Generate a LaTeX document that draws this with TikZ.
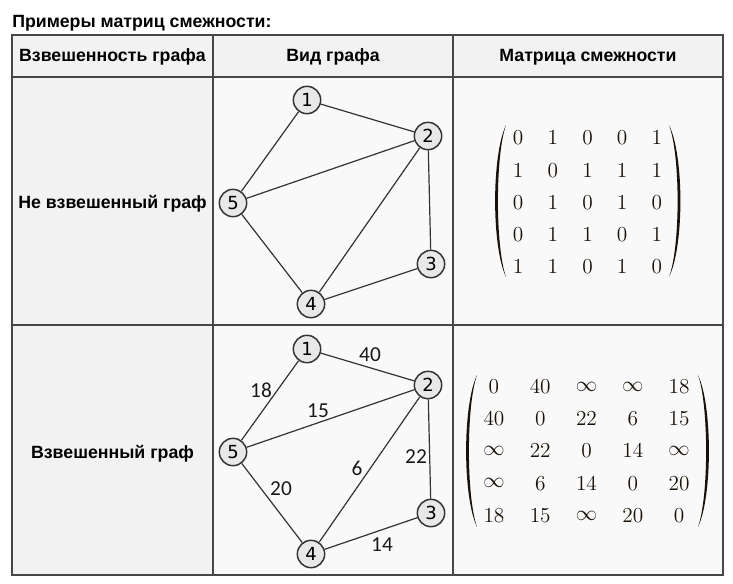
\IfFileExists{fix-cm.sty}{\RequirePackage{fix-cm}}{}
\documentclass[tikz,border=0pt]{standalone}
\usepackage{fontspec}
\newfontfamily\arialf{Liberation Sans}
\newfontfamily\dejavuf{DejaVu Sans}
\newfontfamily\carlitof{Carlito}
\usetikzlibrary{matrix}
\definecolor{headbg}{HTML}{F2F2F2}
\definecolor{cellbg}{HTML}{F9F9F9}
\definecolor{gridc}{HTML}{474747}
\definecolor{vfill}{HTML}{E8E8E8}
\definecolor{edgec}{HTML}{333333}
\definecolor{mtxc}{HTML}{1A1208}
\tikzset{
  gridline/.style={draw=gridc, line width=1.5pt*0.75},
  vtx/.style={circle, draw=edgec, fill=vfill, line width=1.1pt, minimum size=20.5pt, inner sep=0pt, font=\dejavuf\fontsize{13.5}{13.5}\selectfont},
  gedge/.style={draw=edgec, line width=0.9pt},
  wlab/.style={font=\carlitof\fontsize{16}{16}\selectfont, text=black!90, inner sep=0pt},
  headtxt/.style={font=\arialf\bfseries\fontsize{13.3}{15}\selectfont, anchor=base, inner sep=0pt},
  adjm/.style={matrix of math nodes, inner sep=0pt,
    column sep=0pt, row sep=0pt,
    nodes={minimum height=24.2pt, inner sep=0pt, anchor=center, text=mtxc, font=\fontsize{16}{19}\selectfont}},
  delim/.style={fill=mtxc},
}
\newcommand\drawdelim[5]{%
  \pgfmathsetmacro\dca{(#4-#5-0.25*#1)/0.75}%
  \pgfmathsetmacro\dcb{(#4+#5-0.25*#1)/0.75}%
  \pgfmathsetmacro\dya{#2+0.2*(#3-#2)}%
  \pgfmathsetmacro\dyb{#3-0.2*(#3-#2)}%
  \fill[delim] (#1,#2) .. controls (\dca,\dya) and (\dca,\dyb) .. (#1,#3)
     .. controls (\dcb,\dyb) and (\dcb,\dya) .. (#1,#2) -- cycle;}
\begin{document}
\begin{tikzpicture}[x=0.75pt,y=-0.75pt]
\useasboundingbox (0,0) rectangle (733,583);
\fill[white] (0,0) rectangle (733,583);
% backgrounds
\fill[headbg] (12,35) rectangle (723,77);
\fill[headbg] (12,77) rectangle (213,575);
\fill[cellbg] (213,77) rectangle (723,575);
% grid
\draw[gridline] (12,35) rectangle (723,575);
\draw[gridline] (12,77) -- (723,77);
\draw[gridline] (12,325) -- (723,325);
\draw[gridline] (213,35) -- (213,575);
\draw[gridline] (453,35) -- (453,575);
% title and headers
\node[headtxt, anchor=base west] (title) at (12,27) {Примеры матриц смежности:};
\node[headtxt] (h1) at (112.5,61) {Взвешенность графа};
\node[headtxt] (h2) at (333,61) {Вид графа};
\node[headtxt] (h3) at (588,61) {Матрица смежности};
\node[headtxt] (r1) at (112.5,208) {Не взвешенный граф};
\node[headtxt] (r2) at (112.5,458) {Взвешенный граф};
% graph 1
\node[vtx] (a1) at (307,100) {1};
\node[vtx] (a2) at (428,136) {2};
\node[vtx] (a3) at (431,264) {3};
\node[vtx] (a4) at (311,304) {4};
\node[vtx] (a5) at (233,203) {5};
\draw[gedge] (a1) -- (a2);
\draw[gedge] (a1) -- (a5);
\draw[gedge] (a2) -- (a5);
\draw[gedge] (a2) -- (a4);
\draw[gedge] (a2) -- (a3);
\draw[gedge] (a3) -- (a4);
\draw[gedge] (a4) -- (a5);
% graph 2
\node[vtx] (b1) at (307,349) {1};
\node[vtx] (b2) at (428,385) {2};
\node[vtx] (b3) at (431,513) {3};
\node[vtx] (b4) at (311,554) {4};
\node[vtx] (b5) at (233,452) {5};
\draw[gedge] (b1) -- (b2);
\draw[gedge] (b1) -- (b5);
\draw[gedge] (b2) -- (b5);
\draw[gedge] (b2) -- (b4);
\draw[gedge] (b2) -- (b3);
\draw[gedge] (b3) -- (b4);
\draw[gedge] (b4) -- (b5);
\node[wlab] (w40) at (370,355) {40};
\node[wlab] (w18) at (261,390) {18};
\node[wlab] (w15) at (318,411) {15};
\node[wlab] (w22) at (416,457) {22};
\node[wlab] (w6) at (357,468) {6};
\node[wlab] (w20) at (281,489) {20};
\node[wlab] (w14) at (382,545) {14};
% matrix 1
\matrix (m1) [adjm, nodes={minimum width=26pt}] at (587.5,202.5) {
0 & 1 & 0 & 0 & 1 \\
1 & 0 & 1 & 1 & 1 \\
0 & 1 & 0 & 1 & 0 \\
0 & 1 & 1 & 0 & 1 \\
1 & 1 & 0 & 1 & 0 \\
};
\drawdelim{506}{125}{277}{496.5}{1.4}
\drawdelim{669}{125}{277}{679}{-1.4}
% matrix 2
\matrix (m2) [adjm, nodes={minimum width=34.7pt}] at (586.5,451) {
0 & 40 & \infty & \infty & 18 \\
40 & 0 & 22 & 6 & 15 \\
\infty & 22 & 0 & 14 & \infty \\
\infty & 6 & 14 & 0 & 20 \\
18 & 15 & \infty & 20 & 0 \\
};
\drawdelim{477}{375}{527}{467.5}{1.4}
\drawdelim{698}{375}{527}{707.5}{-1.4}
\end{tikzpicture}
\end{document}
